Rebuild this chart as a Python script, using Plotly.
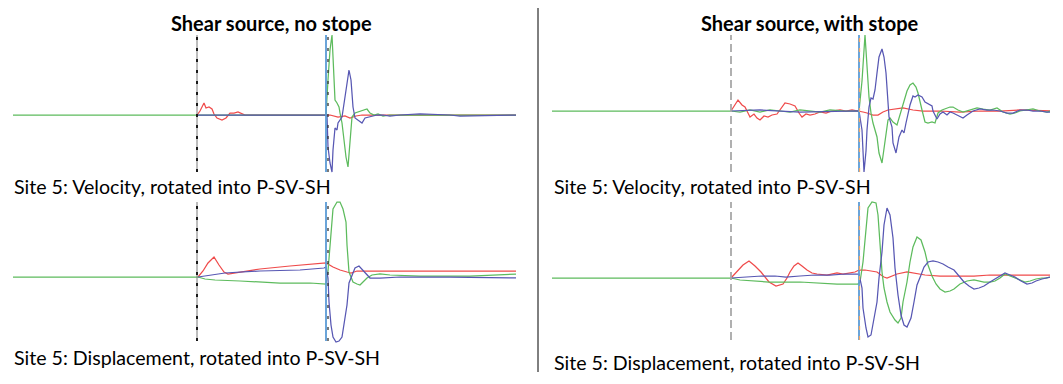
import plotly.graph_objects as go

W, H = 1063, 384

# ---------------- data (time in samples, amplitude in arbitrary units) ----------------
# Top-left: velocity, no stope
tl_red_t = [184, 187, 191, 193, 196, 199, 201, 204, 209, 213, 217, 221, 225, 229, 232, 313, 317, 325, 332, 337, 343, 349, 503]
tl_red_v = [0, 4, 12, 7, 8, 6, 1, -3, -5, -3, 2, 2, 3, 1, 0, 0, 0, -2, -1, -3, -1, 0, 0]
tl_blue_t = [184, 313, 314, 315, 317, 319, 320, 322, 324, 325, 329, 332, 335, 336, 338, 340, 342, 345, 349, 352, 357, 364, 370, 377, 387, 407, 437, 447, 503]
tl_blue_v = [0, 0, 0, -32, -48, -57, -35, -13, -15, -8, -2, 18, 38, 45, 35, 8, -3, -5, -8, -3, -2, 0, 0, -1, 0, 1, 0, -1, 0]
tl_green_t = [0, 313, 315, 317, 319, 320.5, 322, 324, 326, 327, 329, 331, 333, 335, 336, 338, 339, 342, 345, 350, 354, 357, 361, 365, 370, 377, 407, 447, 503]
tl_green_v = [0, 0, 35, 65, 80, 40, 15, 12, 8, 2, -8, -25, -42, -52, -38, -15, -2, 2, 3, 5, 6, 2, 0, 1, -1, 0, 0, 0, 0]

# Top-right: velocity, with stope
tr_red_t = [179, 182, 186, 190, 193, 196, 198, 202, 205, 208, 212, 216, 220, 225, 229, 233, 238, 243, 247, 250, 254, 258, 263, 268, 274, 280, 288, 294, 300, 307, 311, 315, 321, 326, 331, 336, 345, 351, 361, 371, 388, 408, 428, 448, 468, 498]
tr_red_v = [0, 5, 11, 6, 4, -2, -6, -3, -7, -9, -5, -6, -4, -3, 3, 8, 7, 5, -2, -6, -3, -4, -3, -1, -2, 0, 1, 0, 1, 0, -1, -2, -4, -4, -1, 1, 2, 3, 1, 0, 0, -1, 0, 0, 1, 0]
tr_green_t = [0, 179, 188, 198, 208, 218, 228, 238, 248, 258, 268, 278, 293, 307, 310, 313, 315, 317, 319, 321, 325, 327, 330, 333, 336, 338, 341, 345, 348, 351, 355, 358, 361, 364, 366, 370, 373, 376, 380, 383, 386, 390, 393, 398, 401, 406, 411, 418, 425, 431, 438, 445, 451, 458, 463, 468, 475, 481, 488, 495, 498]
tr_green_v = [0, 0, -1, 1, -1, 1, 0, -1, 1, 0, -1, 1, 0, 0, 30, 76, 48, 14, -2, -12, -26, -42, -52, -29, -9, -7, -11, -14, -4, 8, 20, 26, 28, 24, 18, 1, -11, -12, -11, -12, -2, 1, 2, 4, 4, 1, -1, 1, 3, 2, 1, 3, -1, -3, -2, 0, 1, 2, 0, -1, 0]
tr_blue_t = [179, 208, 248, 288, 307, 310, 311, 312, 314, 315, 317, 319, 321, 323, 325, 327, 330, 332, 334, 335, 337, 340, 341, 344, 346, 347, 350, 352, 354, 356, 358, 361, 363, 366, 370, 373, 376, 380, 381, 385, 388, 391, 395, 398, 401, 405, 408, 411, 415, 418, 421, 428, 435, 441, 448, 455, 461, 468, 475, 481, 488, 495, 498]
tr_blue_v = [0, 1, -1, 0, 0, -19, -40, -61, -40, -19, 4, 13, 12, 21, 38, 54, 62, 54, 38, 21, -6, -16, -32, -42, -32, -26, -19, -22, -12, -2, 6, 15, 14, 16, 14, 9, 7, 5, 0, -8, -3, -1, -4, -1, -2, -4, -6, -7, -4, -2, 0, 2, 1, 1, 0, -2, -2, 1, 1, 0, 0, -1, -1]

# Bottom-left: displacement, no stope
bl_red_t = [185, 190, 195, 201, 206, 211, 215, 227, 247, 277, 297, 313, 320, 327, 334, 338, 344, 387, 437, 503]
bl_red_v = [0, 6, 14, 20, 12, 5, 3, 5, 8, 11, 13, 14, 10, 7, 5, 4, 6, 6, 6, 6]
bl_blue_t = [185, 197, 212, 247, 287, 311, 313, 315, 316, 318, 320, 323, 326, 329, 331, 334, 336, 339, 342, 346, 350, 354, 357, 362, 367, 387, 437, 503]
bl_blue_v = [0, 2, 4, 6, 7, 9, 10, -1, -25, -48, -60, -65, -64, -60, -48, -28, -6, 2, 9, 11, 7, 2, -1, -1, -1, 0, 0, -1]
bl_green_t = [0, 185, 192, 202, 227, 267, 297, 313, 315, 317, 319, 320, 324, 327, 330, 333, 334, 336, 338, 340, 344, 347, 350, 354, 359, 367, 377, 407, 457, 487, 503]
bl_green_v = [0, 0, -2, -3, -4, -6, -6, -7, 6, 32, 55, 68, 75, 75, 68, 55, 32, 5, 0, -5, -7, -8, -5, -1, 2, 3, 2, 1, 1, 2, 3]

# Bottom-right: displacement, with stope
br_red_t = [179, 185, 191, 197, 203, 209, 213, 217, 224, 231, 235, 238, 242, 246, 250, 255, 260, 265, 275, 280, 285, 291, 296, 303, 307, 313, 319, 325, 329, 332, 335, 340, 345, 355, 365, 373, 388, 408, 422, 438, 456, 478, 498]
br_red_v = [0, 6, 13, 17, 12, 6, 1, -4, -8, -6, 0, 6, 12, 15, 12, 8, 5, 4, 3, 4, 5, 4, 5, 6, 8, 8, 7, 6, 3, 1, 0, 2, 4, 6, 4, 3, 2, 2, 2, 3, 3, 3, 3]
br_green_t = [0, 179, 188, 200, 217, 248, 285, 306, 308, 311, 314, 316, 320, 324, 326, 328, 330, 332, 335, 338, 343, 346, 349, 351, 355, 358, 361, 365, 369, 373, 376, 380, 384, 388, 393, 398, 402, 408, 415, 422, 428, 432, 438, 443, 448, 453, 458, 463, 468, 473, 478, 484, 490, 494, 498]
br_green_v = [0, 0, -2, -3, -4, -4, -6, -6, -4, 16, 50, 70, 76, 75, 63, 33, 6, -10, -24, -34, -42, -45, -40, -24, -4, 16, 31, 41, 38, 26, 13, 2, -6, -11, -14, -13, -11, -6, -3, -2, -3, -4, -4, -3, 0, 4, 2, 0, -2, -4, -3, -1, 0, 0, 1]
br_blue_t = [179, 193, 210, 223, 234, 248, 263, 278, 293, 305, 307, 310, 311, 314, 316, 319, 321, 325, 327, 330, 332, 335, 338, 341, 343, 346, 349, 352, 355, 359, 362, 365, 369, 372, 376, 381, 386, 391, 396, 402, 407, 412, 417, 422, 427, 432, 438, 443, 448, 453, 458, 463, 469, 475, 480, 484, 490, 495, 498]
br_blue_v = [0, 1, 2, 2, 1, 2, 3, 3, 4, 4, 4, -10, -30, -50, -59, -57, -47, -24, 0, 26, 53, 70, 63, 40, 10, -17, -37, -47, -49, -40, -24, -7, 3, 11, 16, 17, 16, 14, 11, 8, 2, -4, -8, -11, -10, -8, -4, -1, 2, 5, 3, 1, -3, -6, -5, -3, -1, 0, 1]

# picks (arrival times) and axis extents
p_pick = {"tl": 184, "tr": 179, "bl": 184, "br": 179}
s_pick = {"tl": 313, "tr": 307, "bl": 313, "br": 307}
amp_extent = {"tl": (-57, 80), "tr": (-61, 76), "bl": (-64, 75), "br": (-62, 76)}

titles = ["Shear source, no stope", "Shear source, with stope"]
captions = ["Site 5: Velocity, rotated into P-SV-SH", "Site 5: Displacement, rotated into P-SV-SH"]

RED = "#ef4b4b"
BLUE = "#5757b3"
GREEN = "#5dbb5d"
SBLUE = "#5b9bd5"
LW = 1.25

fig = go.Figure()

panels = {
    "tl": ("", [(tl_red_t, tl_red_v, RED), (tl_green_t, tl_green_v, GREEN), (tl_blue_t, tl_blue_v, BLUE)]),
    "tr": ("2", [(tr_red_t, tr_red_v, RED), (tr_green_t, tr_green_v, GREEN), (tr_blue_t, tr_blue_v, BLUE)]),
    "bl": ("3", [(bl_red_t, bl_red_v, RED), (bl_green_t, bl_green_v, GREEN), (bl_blue_t, bl_blue_v, BLUE)]),
    "br": ("4", [(br_red_t, br_red_v, RED), (br_green_t, br_green_v, GREEN), (br_blue_t, br_blue_v, BLUE)]),
}

shapes = []
for key, (ax, traces) in panels.items():
    for t, v, c in traces:
        fig.add_trace(go.Scatter(x=t, y=v, mode="lines", line=dict(color=c, width=LW),
                                 xaxis="x" + ax, yaxis="y" + ax, hoverinfo="skip", showlegend=False))
    lo, hi = amp_extent[key]
    left = key in ("tl", "bl")
    xr, yr = "x" + ax, "y" + ax
    if left:
        # P pick: thin grey line with black dashes
        shapes.append(dict(type="line", xref=xr, yref=yr, x0=p_pick[key], x1=p_pick[key], y0=lo, y1=hi,
                           line=dict(color="#7a7a7a", width=1), layer="above"))
        shapes.append(dict(type="line", xref=xr, yref=yr, x0=p_pick[key], x1=p_pick[key], y0=lo, y1=hi,
                           line=dict(color="#1a1a1a", width=2, dash="3px,8px"), layer="above"))
    else:
        shapes.append(dict(type="line", xref=xr, yref=yr, x0=p_pick[key], x1=p_pick[key], y0=lo, y1=hi,
                           line=dict(color="#a8a8a8", width=1.8, dash="8px,4px"), layer="above"))
    # S pick
    shapes.append(dict(type="line", xref=xr, yref=yr, x0=s_pick[key], x1=s_pick[key], y0=lo, y1=hi,
                       line=dict(color=SBLUE, width=1.8), layer="above"))
    off = 2 if left else 0.5
    shapes.append(dict(type="line", xref=xr, yref=yr, x0=s_pick[key] + off, x1=s_pick[key] + off, y0=lo, y1=hi,
                       line=dict(color="#333333" if left else "#f2a86a", width=1.3,
                                 dash="3px,8px" if left else "4px,6px"), layer="above"))

# divider
shapes.append(dict(type="line", xref="paper", yref="paper", x0=538 / W, x1=538 / W, y0=1 - 372 / H, y1=1 - 8 / H,
                   line=dict(color="#000000", width=1)))

FONT = "Lato, Noto Sans, sans-serif"
ann = []
for x, txt in ((271, titles[0]), (810, titles[1])):
    ann.append(dict(text="<b>" + txt + "</b>", x=x / W, y=1 - 23 / H, xref="paper", yref="paper",
                    xanchor="center", yanchor="middle", showarrow=False, font=dict(family=FONT, size=20, color="#000")))
for x, y, txt in ((12, 186, captions[0]), (552, 186, captions[0]), (12, 357, captions[1]), (552, 362, captions[1])):
    ann.append(dict(text=txt, x=x / W, y=1 - y / H, xref="paper", yref="paper",
                    xanchor="left", yanchor="middle", showarrow=False, font=dict(family=FONT, size=19.6, color="#000")))

def xa(d0, d1, r, anchor):
    return dict(domain=[d0 / W, d1 / W], range=r, visible=False, anchor=anchor, fixedrange=True)

def ya(p_top, p_bot, base, anchor):
    return dict(domain=[1 - p_bot / H, 1 - p_top / H], range=[base - p_bot, base - p_top], visible=False,
                anchor=anchor, fixedrange=True)

fig.update_layout(
    width=W, height=H, autosize=False, margin=dict(l=0, r=0, t=0, b=0),
    paper_bgcolor="white", plot_bgcolor="white", showlegend=False,
    xaxis=xa(13, 516, [0, 503], "y"), yaxis=ya(33, 174, 115, "x"),
    xaxis2=xa(552, 1050, [0, 498], "y2"), yaxis2=ya(33, 174, 111, "x2"),
    xaxis3=xa(13, 516, [0, 503], "y3"), yaxis3=ya(200, 343, 277, "x3"),
    xaxis4=xa(552, 1050, [0, 498], "y4"), yaxis4=ya(200, 343, 278, "x4"),
    shapes=shapes, annotations=ann,
)

fig.write_html("out.html", config={"displayModeBar": False})
